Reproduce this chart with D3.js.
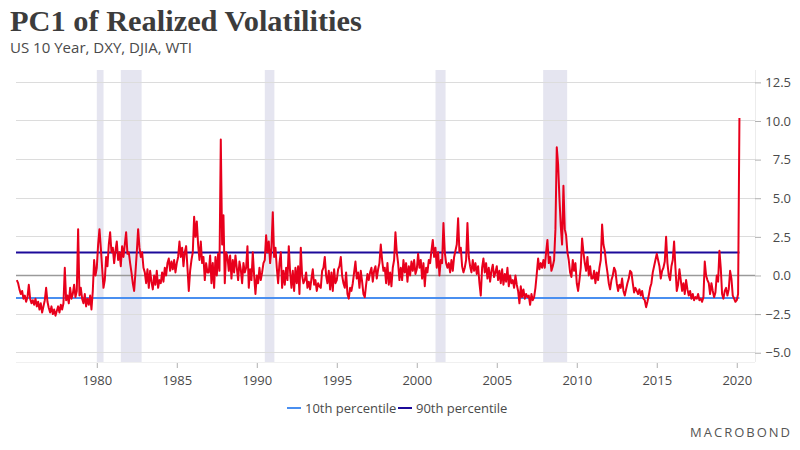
<!DOCTYPE html>
<html>
<head>
<meta charset="utf-8">
<script src="https://cdn.jsdelivr.net/npm/d3@7"></script>
<style>
  html, body { margin: 0; padding: 0; background: #ffffff; }
  svg { display: block; }
</style>
</head>
<body>
<svg id="chart" width="800" height="450"></svg>
<script>
// ---------------- DATA ----------------
const titleText = "PC1 of Realized Volatilities";
const subtitleText = "US 10 Year, DXY, DJIA, WTI";
const startYear = 1975;
// monthly PC1 values, one row per year (1975 ... 2020)
const pc1ByYear = [
  [-0.3, -0.5, -0.9, -1.2, -1.0, -1.5, -1.3, -1.7, -1.4, -0.6, -1.5, -1.8], // 1975
  [-1.6, -1.9, -1.5, -2.0, -1.7, -2.2, -1.8, -2.4, -2.0, -1.6, -0.8, -1.7], // 1976
  [-2.1, -2.4, -2.0, -2.5, -2.2, -2.6, -2.3, -2.0, -2.4, -1.9, -2.2, -1.8], // 1977
  [0.5, -1.6, -1.3, -1.8, -0.8, -1.5, -1.2, -0.6, -1.4, -1.0, 3.0, -1.3],   // 1978
  [-0.8, -1.5, -1.8, -1.2, -2.0, -1.5, -1.9, -1.3, -2.2, -1.0, 1.0, 0.0],   // 1979
  [0.5, 2.0, 3.0, 1.8, 0.5, -0.8, -0.3, 1.2, 0.6, 2.0, 2.8, 1.5],           // 1980
  [1.8, 0.8, 1.6, 2.2, 1.0, 1.5, 0.6, 1.9, 1.2, 2.0, 2.8, 1.4],             // 1981
  [1.5, 0.8, 0.2, -0.5, -1.0, 0.2, 1.5, 3.0, 1.8, 1.2, 1.5, 0.5],           // 1982
  [0.2, -0.5, 0.4, -0.8, 0.3, -0.4, -0.9, 0.0, -0.6, 0.3, -0.8, -0.3],      // 1983
  [-0.5, 0.2, -0.4, 0.5, 0.0, 0.8, 1.1, 0.3, 0.9, 0.4, 1.0, 0.2],           // 1984
  [0.8, 1.2, 2.2, 1.2, 1.8, 0.6, 1.5, 1.9, 0.5, -1.0, 0.3, 1.0],            // 1985
  [1.5, 3.8, 2.5, 3.5, 2.0, 1.0, 2.2, 0.8, 1.2, -0.3, 0.8, 0.2],            // 1986
  [0.2, 1.3, -0.5, 0.8, -0.8, 1.2, 0.0, 1.4, 0.3, 8.8, 2.0, 3.9],           // 1987
  [-0.5, 1.5, 1.2, 0.3, 1.3, -0.2, 1.0, 0.2, 1.3, 0.5, -0.3, 0.9],          // 1988
  [0.4, -0.5, 0.8, 0.2, 0.5, 1.9, -0.8, 0.4, -0.3, 1.5, 0.0, -1.2],         // 1989
  [0.0, -0.5, 0.5, -0.3, 0.2, 0.8, 1.0, 2.6, 1.5, 2.2, 0.8, 1.8],           // 1990
  [4.1, 1.2, 1.8, 0.5, -0.5, 0.8, 1.5, -0.8, 0.3, -0.6, 0.5, -0.3],         // 1991
  [1.9, 0.2, -0.8, 0.3, -1.0, 0.5, -0.5, 0.6, -1.2, 1.8, 0.0, -0.5],        // 1992
  [-0.3, 0.2, -0.8, -0.4, -0.9, -0.2, 0.4, -0.6, -0.3, -1.0, -0.5, -0.7],   // 1993
  [-0.8, 0.3, 0.5, 1.2, 0.0, -0.5, 0.3, -0.9, 0.2, -1.0, 0.4, -0.5],        // 1994
  [-0.3, 0.4, 0.6, 1.2, 0.0, -0.5, -0.8, 0.2, -1.2, -1.5, -0.8, -1.0],      // 1995
  [-0.5, 0.2, 0.9, -0.2, 0.2, -0.8, 0.3, -0.4, -1.2, -1.4, -0.6, 0.1],      // 1996
  [-0.3, 0.2, 0.5, -0.4, 0.3, 0.6, -0.2, 0.4, 0.8, 2.0, 1.0, 0.3],          // 1997
  [0.5, -0.5, 0.8, -0.6, 0.2, -0.7, 0.5, 1.0, 2.8, 1.5, 0.8, -0.3],         // 1998
  [0.5, -0.3, 1.0, 0.2, 0.8, -0.4, 0.6, 0.0, 0.9, 0.3, 1.0, 0.1],           // 1999
  [0.4, 1.4, 0.5, 1.0, -0.2, 0.8, -0.7, 0.5, 0.2, 1.0, 0.8, 1.6],           // 2000
  [2.3, 1.2, 1.8, 0.5, 1.5, 0.0, 1.0, 0.8, 3.4, 1.5, 0.8, 0.5],             // 2001
  [0.8, 0.2, 1.0, 0.3, 1.2, 1.6, 2.0, 3.7, 1.5, 1.8, 0.6, 0.2],             // 2002
  [0.5, 1.0, 3.4, 1.2, 0.6, 0.2, 1.0, 0.3, 0.8, 0.1, 0.6, -0.5],            // 2003
  [-1.3, 0.5, 1.1, 0.2, 0.8, -0.2, 0.5, -0.4, 0.3, 0.7, -0.1, 0.2],         // 2004
  [0.6, -0.3, 0.3, -0.5, 0.4, -0.6, 0.1, -0.4, 0.5, -0.7, 0.0, -0.5],       // 2005
  [-0.3, -0.8, 0.0, -0.6, -1.0, -1.8, -0.7, -1.4, -0.9, -1.5, -1.2, -1.4],  // 2006
  [-1.3, -1.9, -1.2, -1.6, -1.4, -0.8, 0.1, 1.1, 0.4, 0.8, 0.5, 1.0],       // 2007
  [0.5, 1.5, 2.3, 0.8, 1.2, 0.3, 0.6, 1.0, 3.0, 8.3, 7.2, 5.0],             // 2008
  [3.2, 2.0, 5.8, 3.0, 2.6, 1.5, 1.0, 0.2, -0.1, 1.0, 0.3, 0.8],            // 2009
  [-0.5, -1.0, -0.3, 0.5, 2.4, 1.5, 0.8, 0.3, 1.2, 0.0, 0.6, -0.2],         // 2010
  [-0.2, 0.3, -0.5, 0.2, -0.3, 0.5, 1.0, 3.3, 2.0, 1.6, 0.8, 0.2],          // 2011
  [-0.5, -0.9, -0.3, 0.0, 0.5, 0.3, -0.5, -1.0, -0.6, -0.8, -0.2, -1.0],    // 2012
  [-1.3, -0.9, -0.5, -0.2, 0.3, 0.2, -0.5, -1.1, -0.8, -1.0, -1.2, -0.9],   // 2013
  [-1.3, -1.0, -1.5, -1.6, -2.05, -1.7, -1.3, -0.8, -0.5, 0.2, 0.6, 1.0],   // 2014
  [1.4, 1.0, 0.6, -0.2, 0.3, 0.5, 0.9, 2.5, 0.8, 0.0, -0.3, 0.6],           // 2015
  [1.0, 2.2, 0.5, -1.0, -0.6, 0.4, -0.3, -1.0, -0.5, -1.2, -0.3, -0.9],     // 2016
  [-1.3, -1.0, -1.5, -1.2, -1.6, -1.4, -1.5, -1.2, -1.6, -1.5, -1.7, -1.4], // 2017
  [0.9, 0.0, -0.3, -0.5, -1.2, -0.5, -1.0, -1.4, -1.1, 0.0, -0.4, 1.6],     // 2018
  [0.5, -1.2, -1.5, -1.0, -0.8, -1.3, -0.9, 0.3, -0.2, -1.3, -1.5, -1.7],   // 2019
  [-1.6, -1.2, 10.2]                                                        // 2020
];
const p10Value = -1.45;
const p90Value = 1.48;
const recessionStarts = [1980.0, 1981.5, 1990.5, 2001.17, 2007.9];
const recessionEnds   = [1980.42, 1982.8, 1991.1, 2001.8, 2009.4];
const yTickValues = [-5, -2.5, 0, 2.5, 5, 7.5, 10, 12.5];
const xTickYears = [1980, 1985, 1990, 1995, 2000, 2005, 2010, 2015, 2020];
const legendLabels = ["10th percentile", "90th percentile"];

// ---------------- BUILD ----------------
const series = [];
pc1ByYear.forEach((row, i) => row.forEach((v, m) => series.push({ t: startYear + i + m / 12, v })));
const tEnd = series[series.length - 1].t;

const colors = { red: "#e8001c", p10: "#4a8ff0", p90: "#1c0a9a", rec: "#e5e5f0", grid: "#dcdcdc", zero: "#9a9a9a", text: "#4a4a4a" };
const sansFont = "'Open Sans', 'Noto Sans', sans-serif";

const svg = d3.select("#chart");
const plot = { left: 16, right: 755, top: 70, bottom: 362 };

const x = d3.scaleLinear().domain([1974.95, 2021.14]).range([plot.left, plot.right]);
const y = d3.scaleLinear().domain([-5.6, 13.3]).range([plot.bottom, plot.top]);

// recession bands
svg.append("g").selectAll("rect")
  .data(recessionStarts.map((s, i) => [s, recessionEnds[i]]))
  .join("rect")
  .attr("x", d => x(d[0])).attr("width", d => x(d[1]) - x(d[0]))
  .attr("y", plot.top).attr("height", plot.bottom - plot.top)
  .attr("fill", colors.rec);

// gridlines
svg.append("g").selectAll("line")
  .data(yTickValues.filter(v => v !== 0))
  .join("line")
  .attr("x1", plot.left).attr("x2", plot.right)
  .attr("y1", d => y(d)).attr("y2", d => y(d))
  .attr("stroke", colors.grid).attr("stroke-width", 1).attr("shape-rendering", "crispEdges");

// plot frame (right and bottom, very light)
svg.append("line").attr("x1", plot.right + 0.5).attr("x2", plot.right + 0.5)
  .attr("y1", plot.top).attr("y2", plot.bottom).attr("stroke", "#ececec");
svg.append("line").attr("x1", plot.left).attr("x2", plot.right)
  .attr("y1", plot.bottom + 0.5).attr("y2", plot.bottom + 0.5).attr("stroke", "#f0f0f0");

// zero line
svg.append("line").attr("x1", plot.left).attr("x2", plot.right)
  .attr("y1", y(0)).attr("y2", y(0))
  .attr("stroke", colors.zero).attr("stroke-width", 1.5);

// right axis
const yAxis = d3.axisRight(y).tickValues(yTickValues).tickFormat(d3.format(".1f")).tickSize(6).tickPadding(6);
const gy = svg.append("g").attr("transform", `translate(${plot.right},0)`).call(yAxis);
gy.select(".domain").remove();
gy.selectAll(".tick line").attr("stroke", "#b0b0b0");
gy.selectAll(".tick text").attr("fill", colors.text).style("font-family", sansFont).style("font-size", "13px")
  .attr("text-anchor", "end").attr("x", 36);

// bottom axis
const xAxis = d3.axisBottom(x).tickValues(xTickYears).tickFormat(d3.format("d")).tickSize(5).tickPadding(8);
const gx = svg.append("g").attr("transform", `translate(0,${plot.bottom + 1})`).call(xAxis);
gx.select(".domain").remove();
gx.selectAll(".tick line").attr("stroke", "#b0b0b0");
gx.selectAll(".tick text").attr("fill", colors.text).style("font-family", sansFont).style("font-size", "13px");

// percentile lines
svg.append("line").attr("x1", plot.left).attr("x2", x(tEnd))
  .attr("y1", y(p10Value)).attr("y2", y(p10Value))
  .attr("stroke", colors.p10).attr("stroke-width", 2);
svg.append("line").attr("x1", plot.left).attr("x2", x(tEnd))
  .attr("y1", y(p90Value)).attr("y2", y(p90Value))
  .attr("stroke", colors.p90).attr("stroke-width", 2);

// series line
const line = d3.line().x(d => x(d.t)).y(d => y(d.v));
svg.append("path").datum(series)
  .attr("d", line).attr("fill", "none")
  .attr("stroke", colors.red).attr("stroke-width", 2).attr("stroke-linejoin", "round");

// title & subtitle
const title = svg.append("text").attr("x", 10).attr("y", 31)
  .style("font-family", "'Liberation Serif', 'DejaVu Serif', serif")
  .style("font-weight", "bold").style("font-size", "26px")
  .attr("fill", "#3c3c3c").text(titleText);
const tw = title.node().getComputedTextLength();
title.style("font-size", (26 * 352 / tw).toFixed(2) + "px");

const sub = svg.append("text").attr("x", 10).attr("y", 53)
  .style("font-family", sansFont).style("font-size", "14px")
  .attr("fill", colors.text).text(subtitleText);
const sw = sub.node().getComputedTextLength();
sub.style("font-size", (14 * 182 / sw).toFixed(2) + "px");

// legend
const legendItems = [
  { label: legendLabels[0], color: colors.p10, x: 287 },
  { label: legendLabels[1], color: colors.p90, x: 398 }
];
const lg = svg.append("g").selectAll("g").data(legendItems).join("g")
  .attr("transform", d => `translate(${d.x},408)`);
lg.append("line").attr("x1", 0).attr("x2", 14).attr("y1", 0).attr("y2", 0)
  .attr("stroke", d => d.color).attr("stroke-width", 2);
lg.append("text").attr("x", 18).attr("y", 4.5)
  .style("font-family", sansFont).style("font-size", "13px")
  .attr("fill", colors.text).text(d => d.label);

// branding
svg.append("text").attr("x", 792).attr("y", 437).attr("text-anchor", "end")
  .style("font-family", sansFont).style("font-size", "13px").style("letter-spacing", "2px")
  .attr("fill", "#555").text("MACROBOND");
</script>
</body>
</html>
